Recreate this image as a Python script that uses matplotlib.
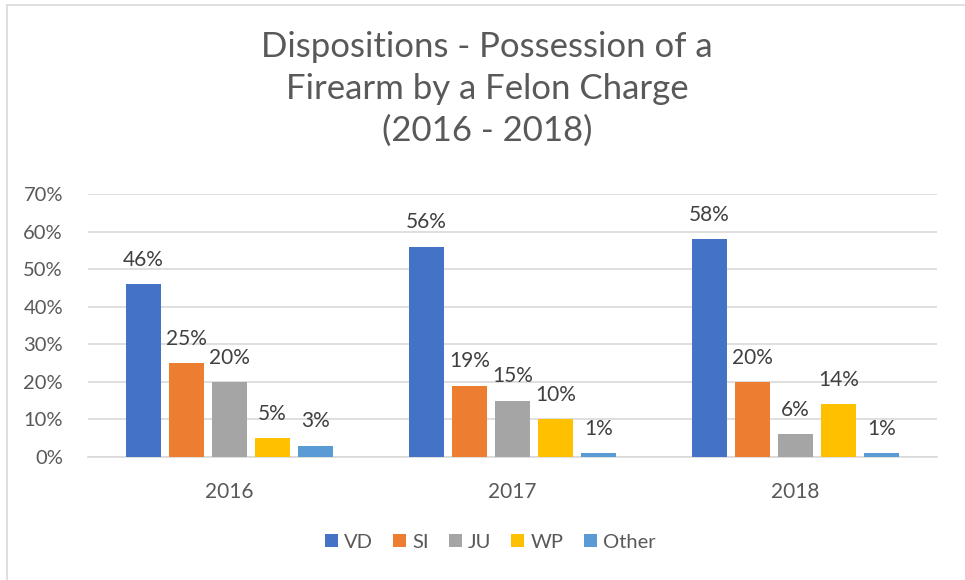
import matplotlib
matplotlib.use("Agg")
import matplotlib.pyplot as plt
from matplotlib.lines import Line2D
from matplotlib.patches import Patch
import numpy as np

years = ["2016", "2017", "2018"]
series = ["VD", "SI", "JU", "WP", "Other"]
VD = [46, 56, 58]
SI = [25, 19, 20]
JU = [20, 15, 6]
WP = [5, 10, 14]
Other = [3, 1, 1]
values = [VD, SI, JU, WP, Other]
colors = ["#4472C4", "#ED7D31", "#A5A5A5", "#FFC000", "#5B9BD5"]
yticks = [0, 10, 20, 30, 40, 50, 60, 70]

plt.rcParams['font.family'] = ['Lato', 'DejaVu Sans']

fig = plt.figure(figsize=(9.65, 5.8), dpi=100)
ax = fig.add_axes([88/965, 1-457/580, 849/965, 263/580])

x = np.arange(len(years))
bw = 0.124
step = 0.152
for i, (name, vals, c) in enumerate(zip(series, values, colors)):
    xs = x + (i - 2) * step
    ax.bar(xs, vals, width=bw, color=c, label=name, zorder=3)
    for xx, v in zip(xs, vals):
        ax.text(xx, v + 3.8, f"{v}%", ha="center", va="bottom",
                fontsize=15, color="#404040")

ax.set_xlim(-0.5, 2.5)
ax.set_ylim(0, 70)
ax.set_yticks(yticks)
ax.set_yticklabels([f"{t}%" for t in yticks], fontsize=14.5, color="#595959")
ax.set_xticks(x)
ax.set_xticklabels(years, fontsize=15, color="#595959")
ax.tick_params(axis="x", length=0, pad=18)
ax.tick_params(axis="y", length=0, pad=18)
ax.grid(axis="y", color="#D9D9D9", linewidth=1.2, zorder=0)
for s in ["top", "right", "left"]:
    ax.spines[s].set_visible(False)
ax.spines["bottom"].set_color("#D9D9D9")
ax.spines["bottom"].set_linewidth(1.2)

fig.text(487/965, 1-89/580, "Dispositions - Possession of a\nFirearm by a Felon Charge\n(2016 - 2018)",
         ha="center", va="center", fontsize=25, color="#595959", linespacing=1.36)

handles = [Patch(facecolor=c, label=n) for n, c in zip(series, colors)]
fig.legend(handles=handles, loc="center", bbox_to_anchor=(490/965, 1-542/580),
           ncol=5, frameon=False, fontsize=14.5, handlelength=0.65, handleheight=0.65,
           handletextpad=0.3, columnspacing=1.0, labelcolor="#595959")

fig.add_artist(Line2D([7/965, 1], [1-5/580, 1-5/580], color="#D9D9D9", linewidth=1.2))
fig.add_artist(Line2D([7/965, 7/965], [0, 1-5/580], color="#D9D9D9", linewidth=1.2))

fig.savefig("out.png", dpi=100)
